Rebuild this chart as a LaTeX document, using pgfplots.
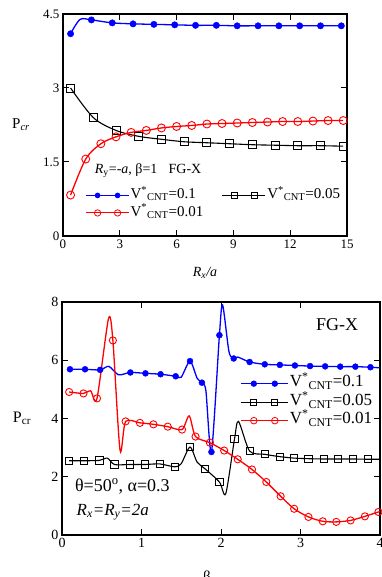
\documentclass[border=0pt]{standalone}
\usepackage{pgfplots}
\pgfplotsset{compat=1.18}
\usepackage{pgfplotstable}
\usepackage{fontspec}
\setmainfont{Liberation Serif}

% ---------- top panel data ----------
\pgfplotstableread{
x y
0.4 4.10
0.9 4.39
1.5 4.38
2.6 4.32
3.7 4.30
4.8 4.29
5.9 4.28
7.0 4.27
8.1 4.27
9.2 4.26
10.3 4.26
11.4 4.26
12.5 4.26
13.6 4.26
14.7 4.26
}\topblueline
\pgfplotstableread{
x y
0.4 4.10
1.5 4.38
2.6 4.32
3.7 4.30
4.8 4.29
5.9 4.28
7.0 4.27
8.1 4.27
9.2 4.26
10.3 4.26
11.4 4.26
12.5 4.26
13.6 4.26
14.7 4.26
}\topbluemark
\pgfplotstableread{
x y
0.4 3.00
1.6 2.40
2.8 2.14
4.0 2.02
5.2 1.96
6.4 1.91
7.6 1.89
8.8 1.87
10.0 1.85
11.2 1.84
12.4 1.83
13.6 1.83
14.8 1.82
}\topblack
\pgfplotstableread{
x y
0.4 0.83
1.2 1.56
2.0 1.87
2.8 2.01
3.6 2.10
4.4 2.14
5.2 2.19
6.0 2.22
6.8 2.24
7.6 2.27
8.4 2.28
9.2 2.29
10.0 2.30
10.8 2.31
11.6 2.32
12.4 2.32
13.2 2.33
14.0 2.34
14.8 2.34
}\topred

% ---------- bottom panel data ----------
\pgfplotstableread{
x y
0.10 5.69
0.29 5.69
0.48 5.67
0.59 5.79
0.71 5.50
0.86 5.58
1.05 5.55
1.24 5.52
1.43 5.45
1.50 5.42
1.61 5.97
1.70 5.38
1.76 5.23
1.81 4.95
1.88 2.85
1.98 6.86
2.02 7.90
2.10 6.30
2.16 6.06
2.21 6.11
2.36 5.94
2.55 5.86
2.74 5.84
2.93 5.82
3.12 5.80
3.31 5.79
3.50 5.78
3.69 5.78
3.88 5.76
4.00 5.74
}\botblueline
\pgfplotstableread{
x y
0.10 5.69
0.29 5.69
0.48 5.67
0.86 5.58
1.05 5.55
1.24 5.52
1.43 5.45
1.61 5.97
1.76 5.23
1.88 2.85
1.98 6.86
2.16 6.06
2.36 5.94
2.55 5.86
2.74 5.84
2.93 5.82
3.12 5.80
3.31 5.79
3.50 5.78
3.69 5.78
3.88 5.76
}\botbluemark
\pgfplotstableread{
x y
0.09 2.55
0.28 2.55
0.47 2.56
0.57 2.64
0.66 2.42
0.85 2.42
1.04 2.42
1.23 2.44
1.42 2.34
1.50 2.45
1.61 3.02
1.70 2.50
1.80 2.27
1.98 1.82
2.06 1.42
2.17 3.30
2.22 3.90
2.36 2.88
2.55 2.77
2.74 2.69
2.92 2.64
3.10 2.62
3.29 2.61
3.47 2.61
3.66 2.61
3.85 2.60
4.00 2.60
}\botblackline
\pgfplotstableread{
x y
0.09 2.55
0.28 2.55
0.47 2.56
0.66 2.42
0.85 2.42
1.04 2.42
1.23 2.44
1.42 2.34
1.61 3.02
1.80 2.27
1.98 1.82
2.17 3.30
2.36 2.88
2.55 2.77
2.74 2.69
2.92 2.64
3.10 2.62
3.29 2.61
3.47 2.61
3.66 2.61
3.85 2.60
}\botblackmark
\pgfplotstableread{
x y
0.09 4.91
0.27 4.86
0.36 4.95
0.44 4.69
0.585 7.43
0.64 6.68
0.73 2.91
0.80 3.90
0.98 3.85
1.15 3.80
1.33 3.72
1.51 3.62
1.60 4.09
1.68 3.38
1.86 3.17
2.04 2.90
2.21 2.60
2.39 2.25
2.57 1.82
2.75 1.33
2.92 0.90
3.10 0.62
3.28 0.47
3.45 0.45
3.63 0.50
3.81 0.64
3.98 0.79
4.00 0.80
}\botredline
\pgfplotstableread{
x y
0.09 4.91
0.27 4.86
0.44 4.69
0.64 6.68
0.80 3.90
0.98 3.85
1.15 3.80
1.33 3.72
1.51 3.62
1.68 3.38
1.86 3.17
2.04 2.90
2.21 2.60
2.39 2.25
2.57 1.82
2.75 1.33
2.92 0.90
3.10 0.62
3.28 0.47
3.45 0.45
3.63 0.50
3.81 0.64
3.98 0.79
}\botredmark

\definecolor{myblue}{RGB}{0,0,255}
\definecolor{myred}{RGB}{255,0,0}

\pgfplotsset{
  paper/.style={
    scale only axis,
    tick align=inside,
    major tick length=6pt,
    axis line style={line width=1.1pt},
    every tick/.style={line width=1pt,black},
    /pgf/number format/assume math mode=true,
    clip=true,
  },
  toplegend/.style={legend image code/.code={%
      \draw[mark repeat=2,mark phase=2,##1] plot coordinates {(0pt,0pt)(12pt,0pt)(22pt,0pt)(32pt,0pt)(43pt,0pt)};}},
  botlegend/.style={legend image code/.code={%
      \draw[mark repeat=2,mark phase=2,##1] plot coordinates {(0pt,0pt)(13pt,0pt)(23pt,0pt)(34pt,0pt)(47pt,0pt)};}},
}

\begin{document}
\begin{tikzpicture}
% ================= TOP =================
\begin{axis}[paper,
  at={(63pt,563pt)}, anchor=north west,
  width=284pt, height=222pt,
  xmin=0, xmax=15, ymin=0, ymax=4.5,
  xtick={0,3,6,9,12,15}, ytick={0,1.5,3,4.5},
  ticklabel style={font=\fontsize{13}{15}\selectfont},
  every axis y label/.style={at={(rel axis cs:0,0.5)},anchor=center,xshift=-42pt},
  every axis x label/.style={at={(rel axis cs:0.5,0)},anchor=center,yshift=-37pt},
  ylabel={\fontsize{15}{17}\selectfont P\textsubscript{\textit{cr}}},
  xlabel={\fontsize{14}{16}\selectfont \textit{R\textsubscript{x}/a}},
  legend style={draw=none, fill=none, at={(rel axis cs:0.077,0.223)}, anchor=north west,
    font=\fontsize{15}{16}\selectfont, inner sep=0pt, row sep=0pt,
    nodes={inner sep=1.5pt, text height=10.5pt, text depth=4pt}},
  legend columns=2,
  legend cell align=left,
  /tikz/every even column/.append style={column sep=17pt},
]
\addlegendimage{myblue, line width=1pt, mark=*, mark size=2.3pt, toplegend}
\addlegendentry{V\textsuperscript{*}\textsubscript{CNT}=0.1}
\addlegendimage{black, line width=0.9pt, mark=square, mark size=2.8pt, mark options={fill=white, line width=0.8pt}, toplegend}
\addlegendentry{V\textsuperscript{*}\textsubscript{CNT}=0.05}
\addlegendimage{myred, line width=1pt, mark=o, mark size=3.2pt, mark options={fill=white, line width=0.8pt}, toplegend}
\addlegendentry{V\textsuperscript{*}\textsubscript{CNT}=0.01}

\addplot[myblue, line width=1.3pt, smooth, forget plot] table {\topblueline};
\addplot[myblue, only marks, mark=*, mark size=3.2pt, forget plot] table {\topbluemark};
\addplot[black, line width=1.1pt, smooth, mark=square, mark size=4pt, mark options={fill=white, line width=0.9pt}, forget plot] table {\topblack};
\addplot[myred, line width=1.3pt, smooth, mark=o, mark size=4pt, mark options={fill=white, line width=0.9pt}, forget plot] table {\topred};
\node[font=\fontsize{14}{16}\selectfont, anchor=west] at (axis cs:1.5,1.33) {\textit{R}\textsubscript{y}=-\textit{a}, β=1\hspace{0.8em}FG-X};
\end{axis}

% ================= BOTTOM =================
\begin{axis}[paper,
  at={(62pt,275pt)}, anchor=north west,
  width=318pt, height=233pt,
  xmin=0, xmax=4, ymin=0, ymax=8,
  xtick={0,1,2,3,4}, ytick={0,2,4,6,8},
  ticklabel style={font=\fontsize{14}{16}\selectfont},
  every axis y label/.style={at={(rel axis cs:0,0.5)},anchor=center,xshift=-40pt},
  every axis x label/.style={at={(rel axis cs:0.456,0)},anchor=center,yshift=-43pt},
  ylabel={\fontsize{16}{18}\selectfont P\textsubscript{cr}},
  xlabel={\fontsize{15}{17}\selectfont β},
  legend style={draw=none, fill=none, at={(rel axis cs:0.56,0.69)}, anchor=north west,
    font=\fontsize{17}{18}\selectfont, inner sep=0pt, row sep=0pt,
    nodes={inner sep=1.5pt, text height=11pt, text depth=4.5pt}},
  legend cell align=left,
]
\addlegendimage{myblue, line width=1.1pt, mark=*, mark size=2.6pt, botlegend}
\addlegendentry{V\textsuperscript{*}\textsubscript{CNT}=0.1}
\addlegendimage{black, line width=0.9pt, mark=square, mark size=3pt, mark options={fill=white, line width=0.8pt}, botlegend}
\addlegendentry{V\textsuperscript{*}\textsubscript{CNT}=0.05}
\addlegendimage{myred, line width=1.1pt, mark=o, mark size=3.3pt, mark options={fill=white, line width=0.8pt}, botlegend}
\addlegendentry{V\textsuperscript{*}\textsubscript{CNT}=0.01}

\addplot[myblue, line width=1.3pt, smooth, tension=0.45, forget plot] table {\botblueline};
\addplot[myblue, only marks, mark=*, mark size=3pt, forget plot] table {\botbluemark};
\addplot[black, line width=1.1pt, smooth, tension=0.45, forget plot] table {\botblackline};
\addplot[black, only marks, mark=square, mark size=3.6pt, mark options={fill=white, line width=0.9pt}, forget plot] table {\botblackmark};
\addplot[myred, line width=1.3pt, smooth, tension=0.45, forget plot] table {\botredline};
\addplot[myred, only marks, mark=o, mark size=3.6pt, mark options={fill=white, line width=0.9pt}, forget plot] table {\botredmark};

\node[font=\fontsize{18}{20}\selectfont] at (axis cs:3.46,7.23) {FG-X};
\node[font=\fontsize{18}{20}\selectfont, anchor=west] at (axis cs:0.12,1.67) {θ=50\textsuperscript{o}, α=0.3};
\node[font=\fontsize{17}{19}\selectfont, anchor=west] at (axis cs:0.14,0.79) {\textit{R\textsubscript{x}=R\textsubscript{y}=2a}};
\end{axis}
\pgfresetboundingbox
\path[use as bounding box] (0pt,0pt) rectangle (381pt,577pt);
\end{tikzpicture}
\end{document}
